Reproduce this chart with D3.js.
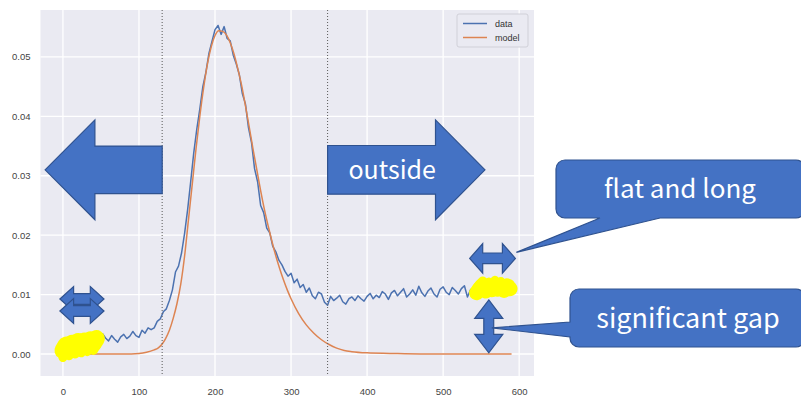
<!DOCTYPE html>
<html><head><meta charset="utf-8">
<script src="https://cdn.jsdelivr.net/npm/d3@7/dist/d3.min.js"></script>
<style>html,body{margin:0;padding:0;background:#fff;}svg{display:block;}</style>
</head><body>
<svg id="chart" width="801" height="396"></svg>
<script>
// ---------------- data ----------------
const xTicks = [0, 100, 200, 300, 400, 500, 600];
const yTicks = [0, 0.01, 0.02, 0.03, 0.04, 0.05];
const yTickLabels = ["0.00", "0.01", "0.02", "0.03", "0.04", "0.05"];
const seriesNames = ["data", "model"];
const cutoffs = [130.5, 348];

// measured data: sampled every 4 units starting at 0
const dataStart = 0, dataStep = 4;
const dataValues = [
  0.0006, 0.0015, 0.0009, 0.0018, 0.0012, 0.0021, 0.0014, 0.0022, 0.0016, 0.0024,
  0.0018, 0.0026, 0.0020, 0.0034, 0.0027, 0.0022, 0.0031, 0.0025, 0.0020, 0.0029,
  0.0033, 0.0026, 0.0030, 0.0038, 0.0031, 0.0028, 0.0040, 0.0035, 0.0044, 0.0041,
  0.0044, 0.0055, 0.0059, 0.0071, 0.0076, 0.0090, 0.0108, 0.0138, 0.0148, 0.0170,
  0.0203, 0.0243, 0.0290, 0.0338, 0.0378, 0.0412, 0.0450, 0.0474, 0.0506, 0.0526,
  0.0546, 0.0553, 0.0538, 0.0551, 0.0531, 0.0527, 0.0503, 0.0488, 0.0470, 0.0438,
  0.0421, 0.0381, 0.0356, 0.0312, 0.0290, 0.0250, 0.0238, 0.0212, 0.0204, 0.0181,
  0.0172, 0.0158, 0.0150, 0.0139, 0.0131, 0.0136, 0.0120, 0.0126, 0.0112, 0.0117,
  0.0104, 0.0111, 0.0098, 0.0093, 0.0104, 0.0101, 0.0087, 0.0082, 0.0097, 0.0090,
  0.0094, 0.0099, 0.0088, 0.0084, 0.0093, 0.0096, 0.0090, 0.0098, 0.0093, 0.0089,
  0.0097, 0.0102, 0.0093, 0.0099, 0.0095, 0.0105, 0.0101, 0.0092, 0.0103, 0.0107,
  0.0098, 0.0104, 0.0110, 0.0096, 0.0101, 0.0108, 0.0099, 0.0114, 0.0103, 0.0097,
  0.0106, 0.0111, 0.0101, 0.0096, 0.0109, 0.0113, 0.0104, 0.0100, 0.0112, 0.0107,
  0.0101, 0.0110, 0.0115, 0.0096, 0.0108, 0.0112, 0.0103, 0.0110, 0.0115, 0.0106,
  0.0113, 0.0108, 0.0116, 0.0109, 0.0114, 0.0107, 0.0112, 0.0110
];

// model curve
const modelX = [0, 50, 80, 100, 110, 120, 125, 130, 135, 140, 145, 150, 155, 160, 165, 170, 175, 180, 185, 190,
  195, 200, 205, 210, 215, 220, 225, 230, 235, 240, 245, 250, 255, 260, 265, 270, 275, 280, 285, 290,
  295, 300, 310, 320, 330, 340, 350, 360, 370, 380, 400, 430, 470, 590];
const modelY = [0, 0, 0, 0.0001, 0.0003, 0.0007, 0.0010, 0.0016, 0.0026, 0.0040, 0.0060, 0.0085, 0.0118, 0.0165, 0.0225, 0.0285, 0.0345, 0.0400, 0.0448, 0.0488,
  0.0517, 0.0536, 0.0544, 0.0543, 0.0537, 0.0524, 0.0505, 0.0480, 0.0452, 0.0418, 0.0382, 0.0345, 0.0310, 0.0275, 0.0243, 0.0215, 0.0189, 0.0165, 0.0144, 0.0125,
  0.0108, 0.0093, 0.0068, 0.0049, 0.0035, 0.0024, 0.0016, 0.0010, 0.0006, 0.0004, 0.0002, 0.0001, 0, 0];

// highlighted (yellow) ranges of the data
const highlightRanges = [[0, 44], [544, 588]];

// annotation texts
const arrowLabel = "outside";
const calloutTexts = ["flat and long", "significant gap"];

// ---------------- layout ----------------
const svg = d3.select("#chart");
const plot = { left: 40.5, right: 534, top: 10, bottom: 376 };
const x = d3.scaleLinear().domain([-29.5, 619.5]).range([plot.left, plot.right]);
const y = d3.scaleLinear().domain([-0.0037, 0.0579]).range([plot.bottom, plot.top]);

const BLUE = "#4C72B0", ORANGE = "#DD8452";
const SHAPE = "#4472C4", SHAPE_EDGE = "#2F528F";

svg.append("rect").attr("x", plot.left).attr("y", plot.top)
  .attr("width", plot.right - plot.left).attr("height", plot.bottom - plot.top)
  .attr("fill", "#EAEAF2");

// grid
const grid = svg.append("g");
grid.selectAll("line.gx").data(xTicks).join("line")
  .attr("x1", d => x(d)).attr("x2", d => x(d)).attr("y1", plot.top).attr("y2", plot.bottom)
  .attr("stroke", "#fff").attr("stroke-width", 1.3);
grid.selectAll("line.gy").data(yTicks).join("line")
  .attr("y1", d => y(d)).attr("y2", d => y(d)).attr("x1", plot.left).attr("x2", plot.right)
  .attr("stroke", "#fff").attr("stroke-width", 1.3);

// axes (labels only, seaborn darkgrid style)
const xAxis = d3.axisBottom(x).tickValues(xTicks).tickSize(0).tickPadding(12).tickFormat(d3.format("d"));
const gx = svg.append("g").attr("transform", `translate(0,${plot.bottom})`).call(xAxis);
const yAxis = d3.axisLeft(y).tickValues(yTicks).tickSize(0).tickPadding(10).tickFormat((d, i) => yTickLabels[i]);
const gy = svg.append("g").attr("transform", `translate(${plot.left},0)`).call(yAxis);
[gx, gy].forEach(g => {
  g.select(".domain").remove();
  g.selectAll("text").attr("fill", "#444").style("font-family", "'Liberation Sans', Arial, sans-serif").style("font-size", "9.5px");
});

// series
const dataPts = dataValues.map((v, i) => [dataStart + i * dataStep, v]);
const modelPts = modelX.map((d, i) => [d, modelY[i]]);
const line = d3.line().x(d => x(d[0])).y(d => y(d[1]));
const smooth = d3.line().x(d => x(d[0])).y(d => y(d[1])).curve(d3.curveMonotoneX);

svg.append("path").datum(dataPts).attr("d", line)
  .attr("fill", "none").attr("stroke", BLUE).attr("stroke-width", 1.5).attr("stroke-linejoin", "round");
svg.append("path").datum(modelPts).attr("d", smooth)
  .attr("fill", "none").attr("stroke", ORANGE).attr("stroke-width", 1.5);

// cutoff lines
svg.selectAll("line.cut").data(cutoffs).join("line")
  .attr("x1", d => x(d)).attr("x2", d => x(d)).attr("y1", plot.top).attr("y2", plot.bottom)
  .attr("stroke", "#666").attr("stroke-width", 1.1).attr("stroke-dasharray", "1,2");

// legend
const lg = svg.append("g").attr("transform", "translate(457,14)");
lg.append("rect").attr("width", 71).attr("height", 33).attr("rx", 2)
  .attr("fill", "#EAEAF2").attr("stroke", "#d0d0d8").attr("stroke-width", 1);
[BLUE, ORANGE].forEach((c, i) => {
  lg.append("line").attr("x1", 6).attr("x2", 30).attr("y1", 9.5 + i * 14).attr("y2", 9.5 + i * 14)
    .attr("stroke", c).attr("stroke-width", 1.5);
  lg.append("text").attr("x", 38).attr("y", 9.5 + i * 14).attr("dy", "0.35em")
    .attr("fill", "#333").style("font-family", "'Liberation Sans', Arial, sans-serif").style("font-size", "9px")
    .text(seriesNames[i]);
});

// yellow highlights over data
highlightRanges.forEach(([a, b], k) => {
  const sub = dataPts.filter(d => d[0] >= a && d[0] <= b);
  svg.append("path").datum(sub).attr("d", line).attr("fill", "none")
    .attr("stroke", "#FFFF00").attr("stroke-width", k === 0 ? 17 : 15)
    .attr("stroke-linecap", "round").attr("stroke-linejoin", "round");
  svg.append("path").datum(sub.map(d => [d[0], d[1] + (k === 0 ? -0.0012 : 0.0008)])).attr("d", line).attr("fill", "none")
    .attr("stroke", "#FFFF00").attr("stroke-width", 9)
    .attr("stroke-linecap", "round").attr("stroke-linejoin", "round");
});

// ---------------- annotation shapes ----------------
function poly(pts) {
  return "M" + pts.map(p => p[0].toFixed(1) + "," + p[1].toFixed(1)).join("L") + "Z";
}
function shape(d) {
  svg.append("path").attr("d", d).attr("fill", SHAPE).attr("stroke", SHAPE_EDGE).attr("stroke-width", 1.2)
    .attr("stroke-linejoin", "miter");
}
// big block arrow, data coords: tip x, head base x, shaft end x, centre y, head half-height, shaft half-height
function blockArrow(tipX, headX, endX, cy, headHalf, shaftHalf) {
  const xt = x(tipX), xh = x(headX), xe = x(endX), yc = y(cy);
  const hh = y(cy - headHalf) - yc, sh = y(cy - shaftHalf) - yc;
  return poly([[xt, yc], [xh, yc - hh], [xh, yc - sh], [xe, yc - sh], [xe, yc + sh], [xh, yc + sh], [xh, yc + hh]]);
}
// horizontal double arrow (data coords)
function hDouble(x1, x2, cy, headLen, headHalf, shaftHalf) {
  const a = x(x1), b = x(x2), hl = x(x1 + headLen) - a, yc = y(cy);
  const hh = y(cy - headHalf) - yc, sh = y(cy - shaftHalf) - yc;
  return poly([[a, yc], [a + hl, yc - hh], [a + hl, yc - sh], [b - hl, yc - sh], [b - hl, yc - hh], [b, yc],
    [b - hl, yc + hh], [b - hl, yc + sh], [a + hl, yc + sh], [a + hl, yc + hh]]);
}
// vertical double arrow (data coords)
function vDouble(cx, y1, y2, headLen, headHalf, shaftHalf) {
  const xc = x(cx), top = y(y1), bot = y(y2), hl = y(y1 - headLen) - top;
  const hw = x(cx + headHalf) - xc, sw = x(cx + shaftHalf) - xc;
  return poly([[xc, top], [xc + hw, top + hl], [xc + sw, top + hl], [xc + sw, bot - hl], [xc + hw, bot - hl], [xc, bot],
    [xc - hw, bot - hl], [xc - sw, bot - hl], [xc - sw, top + hl], [xc - hw, top + hl]]);
}

shape(blockArrow(-23.5, 42, cutoffs[0], 0.031, 0.0084, 0.0040));
shape(blockArrow(555, 490, cutoffs[1], 0.031, 0.0084, 0.0041));
svg.append("text").attr("x", x(433)).attr("y", y(0.031)).attr("dy", "0.36em").attr("text-anchor", "middle")
  .attr("fill", "#fff").style("font-family", "'Noto Sans CJK JP', 'Noto Sans', sans-serif").style("font-size", "25px")
  .text(arrowLabel);

shape(hDouble(-4, 54, 0.00926, 18, 0.0021, 0.0009));
shape(hDouble(-4, 54, 0.00724, 18, 0.0021, 0.0009));
shape(hDouble(535, 595, 0.0161, 17, 0.0025, 0.0009));
shape(vDouble(560, 0.0091, 0.0002, 0.0031, 18.5, 6.5));

// callouts (page layout, px)
function callout(x0, y0, x1, y1, r, tail) {
  const p = d3.path();
  p.moveTo(x0 + r, y0);
  p.lineTo(x1 - r, y0); p.arcTo(x1, y0, x1, y0 + r, r);
  p.lineTo(x1, y1 - r); p.arcTo(x1, y1, x1 - r, y1, r);
  if (tail.side === "bottom") {
    p.lineTo(tail.b2, y1); p.lineTo(tail.tx, tail.ty); p.lineTo(tail.b1, y1);
  }
  p.lineTo(x0 + r, y1); p.arcTo(x0, y1, x0, y1 - r, r);
  if (tail.side === "left") {
    p.lineTo(x0, tail.b2); p.lineTo(tail.tx, tail.ty); p.lineTo(x0, tail.b1);
  }
  p.lineTo(x0, y0 + r); p.arcTo(x0, y0, x0 + r, y0, r);
  p.closePath();
  return p.toString();
}
const tip1 = [x(595), y(0.0161)];
const tip2 = [x(560) + 3, y(0.0044)];
shape(callout(556, 160, 805, 218, 9, { side: "bottom", b1: 600, b2: 660, tx: tip1[0] + 1, ty: tip1[1] - 6 }));
shape(callout(570, 289, 805, 347, 9, { side: "left", b1: 322, b2: 337, tx: tip2[0], ty: tip2[1] }));
svg.append("text").attr("x", 680).attr("y", 189).attr("dy", "0.36em").attr("text-anchor", "middle")
  .attr("fill", "#fff").style("font-family", "'Noto Sans CJK JP', 'Noto Sans', sans-serif").style("font-size", "26px")
  .text(calloutTexts[0]);
svg.append("text").attr("x", 688).attr("y", 318).attr("dy", "0.36em").attr("text-anchor", "middle")
  .attr("fill", "#fff").style("font-family", "'Noto Sans CJK JP', 'Noto Sans', sans-serif").style("font-size", "27px")
  .text(calloutTexts[1]);
</script>
</body></html>
